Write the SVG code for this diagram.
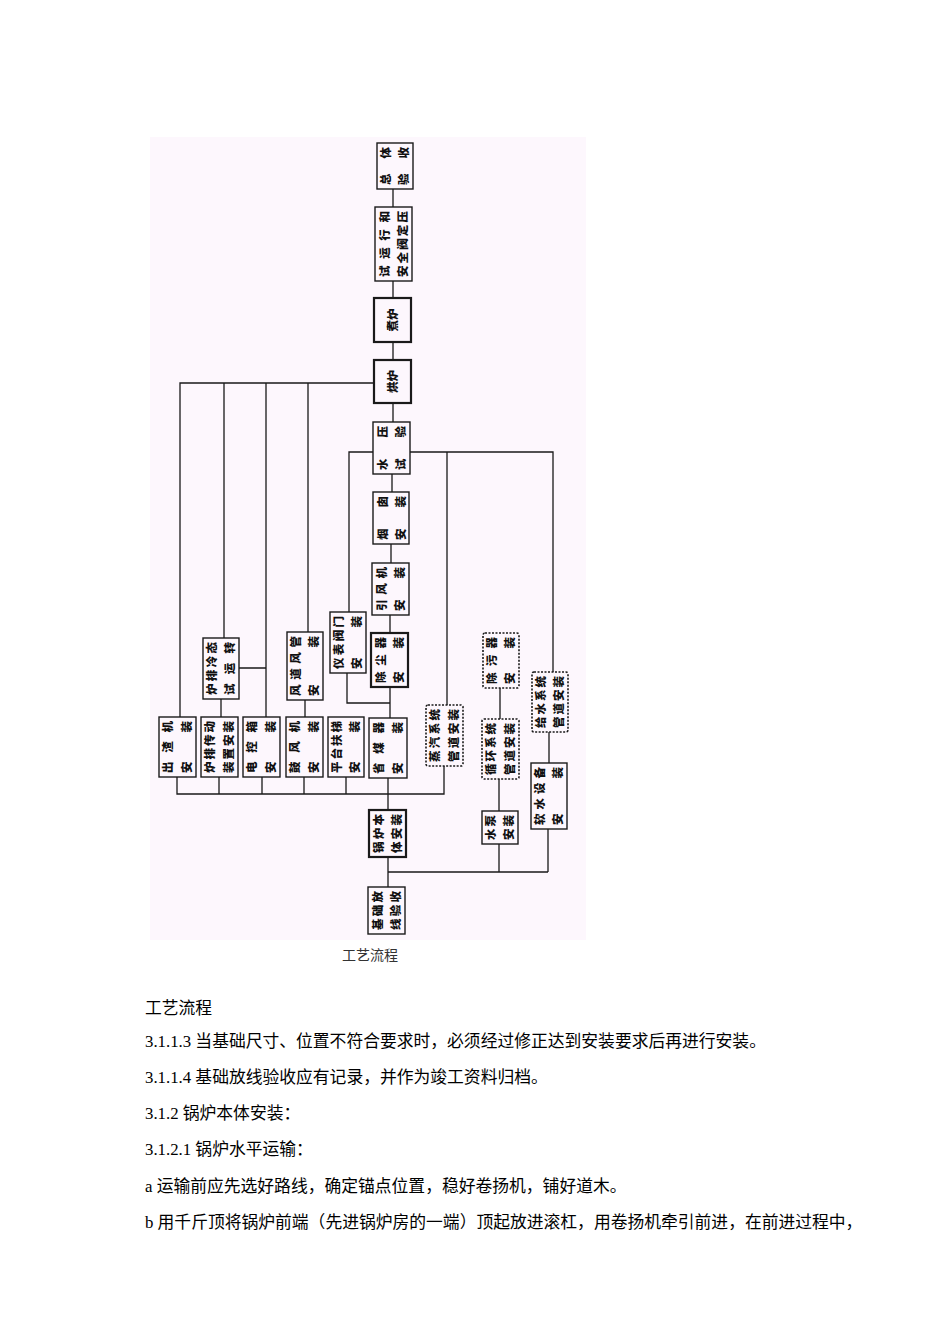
<svg xmlns="http://www.w3.org/2000/svg" width="950" height="1344" viewBox="0 0 950 1344">
<style>
.bg{fill:#fdf7fd}
.box{fill:#fdf7fd;stroke:#1a1a1a;stroke-width:1.4}
.bold{stroke-width:2.2}
.dash{stroke-dasharray:2 1.5;stroke-width:1.6}
.bt{font-family:"Noto Sans CJK SC","Noto Sans",sans-serif;font-weight:900;font-size:11.5px;fill:#111}
.ln{stroke:#1a1a1a;stroke-width:1.3;fill:none}
.doc{font-family:"Liberation Serif","Noto Sans CJK SC",serif;font-size:16.8px;fill:#000}
.cap{font-family:"Noto Sans CJK SC",sans-serif;font-size:14px;fill:#333}
</style>
<rect width="950" height="1344" fill="#ffffff"/>
<rect class="bg" x="150" y="137" width="436" height="803"/>

<g id="connectors">
<path class="ln" d="M393 189V207M393 281V298M393 342V360M393 403V422M392 474V492M391 544V563M390 615V633M390 687V718M388 778V810M388 857V887"/>
<path class="ln" d="M374 383H180V717M224 383V638M266 383V717M308 383V632"/>
<path class="ln" d="M221 699V717M239 668H266M305 700V717"/>
<path class="ln" d="M373 452H349V612M347 673V703H390"/>
<path class="ln" d="M410 452H553V672M447 452V705"/>
<path class="ln" d="M549 732V763M500 688V719M499 779V811M499 844V872M548 829V872M388 872H548"/>
<path class="ln" d="M177 777V794H444V766M219 777V794M262 777V794M304 777V794M346 777V794"/>
</g>

<g id="n1"><rect class="box" x="377" y="143" width="36" height="46"/>
<text class="bt" transform="translate(386,185) rotate(-90)" y="4.2" textLength="38" lengthAdjust="spacing">总体</text>
<text class="bt" transform="translate(404,185) rotate(-90)" y="4.2" textLength="38" lengthAdjust="spacing">验收</text></g>

<g id="n2"><rect class="box" x="375" y="207" width="37" height="74"/>
<text class="bt" transform="translate(385,277) rotate(-90)" y="4.2" textLength="66" lengthAdjust="spacing">试运行和</text>
<text class="bt" transform="translate(403,277) rotate(-90)" y="4.2" textLength="66" lengthAdjust="spacing">安全阀定压</text></g>

<g id="n3"><rect class="box bold" x="374" y="298" width="37" height="44"/>
<text class="bt" transform="translate(392.5,320) rotate(-90)" y="4.2" text-anchor="middle">煮炉</text></g>

<g id="n4"><rect class="box bold" x="374" y="360" width="37" height="43"/>
<text class="bt" transform="translate(392.5,381.5) rotate(-90)" y="4.2" text-anchor="middle">烘炉</text></g>

<g id="n5"><rect class="box" x="373" y="422" width="37" height="52"/>
<text class="bt" transform="translate(383,470) rotate(-90)" y="4.2" textLength="44" lengthAdjust="spacing">水压</text>
<text class="bt" transform="translate(401,470) rotate(-90)" y="4.2" textLength="44" lengthAdjust="spacing">试验</text></g>

<g id="n6"><rect class="box" x="373" y="492" width="36" height="52"/>
<text class="bt" transform="translate(383,540) rotate(-90)" y="4.2" textLength="44" lengthAdjust="spacing">烟囱</text>
<text class="bt" transform="translate(401,540) rotate(-90)" y="4.2" textLength="44" lengthAdjust="spacing">安装</text></g>

<g id="n7"><rect class="box" x="372" y="563" width="37" height="52"/>
<text class="bt" transform="translate(382,611) rotate(-90)" y="4.2" textLength="44" lengthAdjust="spacing">引风机</text>
<text class="bt" transform="translate(400,611) rotate(-90)" y="4.2" textLength="44" lengthAdjust="spacing">安装</text></g>

<g id="n8"><rect class="box bold" x="371" y="633" width="37" height="54"/>
<text class="bt" transform="translate(381,683) rotate(-90)" y="4.2" textLength="46" lengthAdjust="spacing">除尘器</text>
<text class="bt" transform="translate(399,683) rotate(-90)" y="4.2" textLength="46" lengthAdjust="spacing">安装</text></g>

<g id="n9"><rect class="box" x="330" y="612" width="36" height="61"/>
<text class="bt" transform="translate(339,669) rotate(-90)" y="4.2" textLength="53" lengthAdjust="spacing">仪表阀门</text>
<text class="bt" transform="translate(357,669) rotate(-90)" y="4.2" textLength="53" lengthAdjust="spacing">安装</text></g>

<g id="n10"><rect class="box" x="287" y="632" width="36" height="68"/>
<text class="bt" transform="translate(296,696) rotate(-90)" y="4.2" textLength="60" lengthAdjust="spacing">风道风管</text>
<text class="bt" transform="translate(314,696) rotate(-90)" y="4.2" textLength="60" lengthAdjust="spacing">安装</text></g>

<g id="n11"><rect class="box" x="203" y="638" width="36" height="61"/>
<text class="bt" transform="translate(212,695) rotate(-90)" y="4.2" textLength="53" lengthAdjust="spacing">炉排冷态</text>
<text class="bt" transform="translate(230,695) rotate(-90)" y="4.2" textLength="53" lengthAdjust="spacing">试运转</text></g>

<g id="n12"><rect class="box" x="159" y="717" width="37" height="60"/>
<text class="bt" transform="translate(168,773) rotate(-90)" y="4.2" textLength="52" lengthAdjust="spacing">出渣机</text>
<text class="bt" transform="translate(187,773) rotate(-90)" y="4.2" textLength="52" lengthAdjust="spacing">安装</text></g>

<g id="n13"><rect class="box" x="201" y="717" width="37" height="60"/>
<text class="bt" transform="translate(210,773) rotate(-90)" y="4.2" textLength="52" lengthAdjust="spacing">炉排传动</text>
<text class="bt" transform="translate(229,773) rotate(-90)" y="4.2" textLength="52" lengthAdjust="spacing">装置安装</text></g>

<g id="n14"><rect class="box" x="243" y="717" width="37" height="60"/>
<text class="bt" transform="translate(252,773) rotate(-90)" y="4.2" textLength="52" lengthAdjust="spacing">电控箱</text>
<text class="bt" transform="translate(271,773) rotate(-90)" y="4.2" textLength="52" lengthAdjust="spacing">安装</text></g>

<g id="n15"><rect class="box" x="286" y="717" width="37" height="60"/>
<text class="bt" transform="translate(295,773) rotate(-90)" y="4.2" textLength="52" lengthAdjust="spacing">鼓风机</text>
<text class="bt" transform="translate(314,773) rotate(-90)" y="4.2" textLength="52" lengthAdjust="spacing">安装</text></g>

<g id="n16"><rect class="box" x="328" y="717" width="36" height="60"/>
<text class="bt" transform="translate(337,773) rotate(-90)" y="4.2" textLength="52" lengthAdjust="spacing">平台扶梯</text>
<text class="bt" transform="translate(355,773) rotate(-90)" y="4.2" textLength="52" lengthAdjust="spacing">安装</text></g>

<g id="n17"><rect class="box" x="369" y="718" width="38" height="60"/>
<text class="bt" transform="translate(379,774) rotate(-90)" y="4.2" textLength="52" lengthAdjust="spacing">省煤器</text>
<text class="bt" transform="translate(398,774) rotate(-90)" y="4.2" textLength="52" lengthAdjust="spacing">安装</text></g>

<g id="n18"><rect class="box dash" x="426" y="705" width="37" height="61" rx="2"/>
<text class="bt" transform="translate(435,762) rotate(-90)" y="4.2" textLength="53" lengthAdjust="spacing">蒸汽系统</text>
<text class="bt" transform="translate(454,762) rotate(-90)" y="4.2" textLength="53" lengthAdjust="spacing">管道安装</text></g>

<g id="n19"><rect class="box dash" x="483" y="633" width="36" height="55" rx="2"/>
<text class="bt" transform="translate(492,684) rotate(-90)" y="4.2" textLength="47" lengthAdjust="spacing">除污器</text>
<text class="bt" transform="translate(510,684) rotate(-90)" y="4.2" textLength="47" lengthAdjust="spacing">安装</text></g>

<g id="n20"><rect class="box dash" x="482" y="719" width="37" height="60" rx="2"/>
<text class="bt" transform="translate(491,775) rotate(-90)" y="4.2" textLength="52" lengthAdjust="spacing">循环系统</text>
<text class="bt" transform="translate(510,775) rotate(-90)" y="4.2" textLength="52" lengthAdjust="spacing">管道安装</text></g>

<g id="n21"><rect class="box dash" x="532" y="672" width="36" height="60" rx="2"/>
<text class="bt" transform="translate(541,728) rotate(-90)" y="4.2" textLength="52" lengthAdjust="spacing">给水系统</text>
<text class="bt" transform="translate(559,728) rotate(-90)" y="4.2" textLength="52" lengthAdjust="spacing">管道安装</text></g>

<g id="n22"><rect class="box" x="531" y="763" width="36" height="66"/>
<text class="bt" transform="translate(540,825) rotate(-90)" y="4.2" textLength="58" lengthAdjust="spacing">软水设备</text>
<text class="bt" transform="translate(558,825) rotate(-90)" y="4.2" textLength="58" lengthAdjust="spacing">安装</text></g>

<g id="n23"><rect class="box" x="482" y="811" width="36" height="33"/>
<text class="bt" transform="translate(491,840) rotate(-90)" y="4.2" textLength="25" lengthAdjust="spacing">水泵</text>
<text class="bt" transform="translate(509,840) rotate(-90)" y="4.2" textLength="25" lengthAdjust="spacing">安装</text></g>

<g id="n24"><rect class="box bold" x="369" y="810" width="37" height="47"/>
<text class="bt" transform="translate(379,853) rotate(-90)" y="4.2" textLength="39" lengthAdjust="spacing">锅炉本</text>
<text class="bt" transform="translate(397,853) rotate(-90)" y="4.2" textLength="39" lengthAdjust="spacing">体安装</text></g>

<g id="n25"><rect class="box" x="368" y="887" width="37" height="47"/>
<text class="bt" transform="translate(378,930) rotate(-90)" y="4.2" textLength="39" lengthAdjust="spacing">基础放</text>
<text class="bt" transform="translate(396,930) rotate(-90)" y="4.2" textLength="39" lengthAdjust="spacing">线验收</text></g>

<text class="cap" x="370" y="960" text-anchor="middle">工艺流程</text>

<g id="body">
<text class="doc" x="145" y="1014">工艺流程</text>
<text class="doc" x="145" y="1047">3.1.1.3 当基础尺寸、位置不符合要求时，必须经过修正达到安装要求后再进行安装。</text>
<text class="doc" x="145" y="1083">3.1.1.4 基础放线验收应有记录，并作为竣工资料归档。</text>
<text class="doc" x="145" y="1119">3.1.2 锅炉本体安装：</text>
<text class="doc" x="145" y="1155">3.1.2.1 锅炉水平运输：</text>
<text class="doc" x="145" y="1192">a 运输前应先选好路线，确定锚点位置，稳好卷扬机，铺好道木。</text>
<text class="doc" x="145" y="1228">b 用千斤顶将锅炉前端（先进锅炉房的一端）顶起放进滚杠，用卷扬机牵引前进，在前进过程中，</text>
</g>
</svg>
